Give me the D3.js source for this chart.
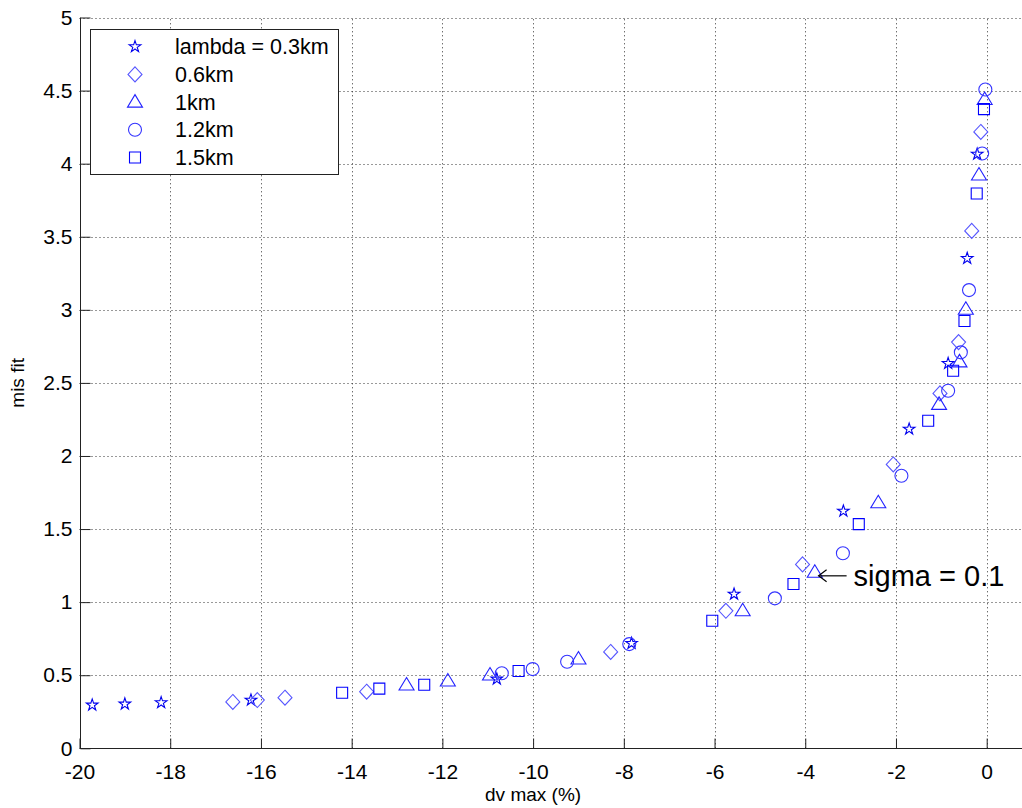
<!DOCTYPE html>
<html><head><meta charset="utf-8">
<script src="https://cdn.jsdelivr.net/npm/d3@7"></script>
<style>body{margin:0;background:#fff}svg{display:block}text{font-family:"Liberation Sans",Arial,sans-serif}</style>
</head><body><svg id="c" width="1022" height="808"></svg>
<script>
const xTicks = [-20,-18,-16,-14,-12,-10,-8,-6,-4,-2,0];
const yTicks = [0,0.5,1,1.5,2,2.5,3,3.5,4,4.5,5];
const seriesNames = ["lambda = 0.3km","0.6km","1km","1.2km","1.5km"];
const seriesShapes = ["star","diamond","triangle","circle","square"];
const starX = [-19.72,-19.0,-18.2,-16.22,-10.8,-7.83,-5.57,-3.16,-1.71,-0.85,-0.43,-0.21];
const starY = [0.296,0.303,0.312,0.33,0.474,0.718,1.055,1.623,2.184,2.633,3.352,4.065];
const diamondX = [-16.62,-16.08,-15.47,-13.67,-8.29,-5.75,-4.06,-2.06,-1.03,-0.62,-0.33,-0.13];
const diamondY = [0.317,0.33,0.346,0.387,0.659,0.941,1.258,1.942,2.428,2.779,3.54,4.217];
const triangleX = [-12.79,-11.88,-10.95,-9.0,-5.38,-3.79,-2.39,-1.05,-0.6,-0.46,-0.17,-0.045];
const triangleY = [0.433,0.46,0.501,0.611,0.941,1.204,1.68,2.353,2.644,3.004,3.922,4.439];
const circleX = [-10.69,-10.01,-9.25,-7.88,-4.67,-3.17,-1.88,-0.85,-0.57,-0.39,-0.1,-0.03];
const circleY = [0.513,0.542,0.592,0.713,1.026,1.334,1.865,2.446,2.709,3.135,4.07,4.507];
const squareX = [-14.21,-13.39,-12.4,-10.32,-6.05,-4.26,-2.82,-1.29,-0.74,-0.49,-0.22,-0.06];
const squareY = [0.38,0.408,0.435,0.529,0.873,1.124,1.534,2.241,2.583,2.923,3.796,4.373];
const annotation = {text:"sigma = 0.1", x:-3.75, y:1.18};

const svg = d3.select("#c");
const x = d3.scaleLinear().domain([-20,0]).range([79.5,986.7]);
const y = d3.scaleLinear().domain([0,5]).range([748.3,17.5]);
const W = 1022;

// grid
const grid = svg.append("g").attr("stroke","#333").attr("stroke-width",1).attr("stroke-dasharray","1,3");
xTicks.forEach(t=>{ if(t>-20) grid.append("line").attr("x1",Math.round(x(t))+0.5).attr("x2",Math.round(x(t))+0.5).attr("y1",y(0)).attr("y2",y(5)); });
yTicks.forEach(t=>{ if(t>0) grid.append("line").attr("x1",x(-20)).attr("x2",W).attr("y1",Math.round(y(t))+0.5).attr("y2",Math.round(y(t))+0.5); });

// axes
const xAxis = d3.axisBottom(x).tickValues(xTicks).tickSizeInner(-10).tickSizeOuter(0).tickPadding(16).tickFormat(d3.format("d"));
const gx = svg.append("g").attr("transform",`translate(0,${Math.round(y(0))+0.5})`).call(xAxis);
gx.select(".domain").attr("d",`M${x(-20)},0H${W}`).attr("stroke","#222");
gx.selectAll("line").attr("stroke","#222");
gx.selectAll("text").attr("font-size",21).attr("fill","#000").text(d=>d<0?"-"+(-d):d);

const yAxis = d3.axisLeft(y).tickValues(yTicks).tickSizeInner(-10).tickSizeOuter(0).tickPadding(8).tickFormat(d=>d);
const gy = svg.append("g").attr("transform",`translate(${Math.round(x(-20))+0.5},0)`).call(yAxis);
gy.select(".domain").attr("d",`M0,${y(0)}V${y(5)}`).attr("stroke","#222");
gy.selectAll("line").attr("stroke","#222");
gy.selectAll("text").attr("font-size",21).attr("fill","#000");

// axis labels
svg.append("text").attr("x",(x(-20)+x(0))/2).attr("y",801).attr("text-anchor","middle").attr("font-size",19).text("dv max (%)");
svg.append("text").attr("transform",`translate(24,${(y(0)+y(5))/2}) rotate(-90)`).attr("text-anchor","middle").attr("font-size",19).text("mis fit");

// markers
function shapePath(s){
  switch(s){
    case "star": return d3.symbol(d3.symbolStar,42)();
    case "diamond": return "M0,-7.5L7,0L0,7.5L-7,0Z";
    case "triangle": return "M0,-7.5L7.5,5L-7.5,5Z";
    case "circle": return d3.symbol(d3.symbolCircle,Math.PI*6.5*6.5)();
    case "square": return "M-5.5,-5.5H5.5V5.5H-5.5Z";
  }
}
const seriesData = [[starX,starY],[diamondX,diamondY],[triangleX,triangleY],[circleX,circleY],[squareX,squareY]];
const colors = ["#0000ee","#5555ff","#2222ff","#3333ff","#0000ff"];
seriesData.forEach(([xs,ys],i)=>{
  svg.append("g").selectAll("path").data(xs.map((v,j)=>[v,ys[j]])).join("path")
    .attr("transform",d=>`translate(${x(d[0])},${y(d[1])})`)
    .attr("d",shapePath(seriesShapes[i])).attr("fill","none").attr("stroke",colors[i]).attr("stroke-width",1.1);
});

// legend
const lg = svg.append("g");
lg.append("rect").attr("x",90.5).attr("y",29.5).attr("width",248).attr("height",145).attr("fill","#fff").attr("stroke","#222");
seriesNames.forEach((n,i)=>{
  const yy = 46.7 + i*27.7;
  lg.append("path").attr("transform",`translate(135,${yy})`).attr("d",shapePath(seriesShapes[i])).attr("fill","none").attr("stroke",colors[i]).attr("stroke-width",1.1);
  lg.append("text").attr("x",175).attr("y",yy+7.5).attr("font-size",21.5).text(n);
});

// annotation
const ax = x(annotation.x), ay = y(annotation.y);
const a = svg.append("g").attr("stroke","#000").attr("stroke-width",1.2).attr("fill","none");
a.append("line").attr("x1",ax+30).attr("x2",ax+2).attr("y1",ay).attr("y2",ay);
a.append("path").attr("d",`M${ax+10},${ay-6}L${ax+2},${ay}L${ax+10},${ay+6}`);
svg.append("text").attr("x",ax+37).attr("y",ay+10).attr("font-size",29).text(annotation.text);
</script></body></html>
